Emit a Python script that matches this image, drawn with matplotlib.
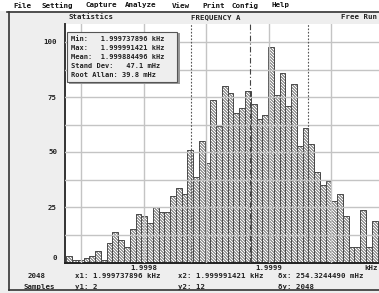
import numpy as np
import matplotlib
matplotlib.use("Agg")
import matplotlib.pyplot as plt
from matplotlib.patches import Rectangle
from matplotlib.collections import LineCollection
from matplotlib.path import Path
from matplotlib.transforms import Affine2D

# statistics shown in the box
f_min = 1.999737896
f_max = 1.999991421
f_mean = 1.999884496
std_dev = 47.1e-6      # kHz (47.1 mHz)
root_allan = 39.8      # mHz
n_samples = 2048

# histogram counts, one per bin between min and max
counts = [3, 1, 1, 2, 3, 5, 1, 9, 14, 10,
          7, 15, 22, 21, 18, 25, 23, 23, 30, 34,
          31, 51, 39, 55, 45, 74, 62, 80, 77, 68,
          70, 78, 72, 65, 67, 98, 76, 86, 71, 81,
          53, 61, 54, 41, 35, 37, 28, 31, 21, 7,
          7, 24, 7, 19, 12]

y_ticks = [0, 25, 50, 75, 100]
x_ticks = [1.9998, 1.9999]
x_labels = ["1.9998", "1.9999"]
menu_items = ["File", "Setting", "Capture", "Analyze", "View", "Print", "Config", "Help"]

W, H = 379, 293
fig = plt.figure(figsize=(W / 100, H / 100), dpi=100, facecolor="#eeeeee")


def px(x, y):
    return x / W, 1 - y / H


mono = dict(family="DejaVu Sans Mono", fontweight="bold", color="#222222")

# menu bar
fig.add_artist(Rectangle(px(0, 11), 1, 11 / H, transform=fig.transFigure,
                         facecolor="white", edgecolor="none"))
menu_x = [13, 42, 85, 125, 172, 202, 232, 272]
for mx, item in zip(menu_x, menu_items):
    fig.text(*px(mx, 5.5), item, fontsize=5.4, va="center", ha="left",
             family="DejaVu Sans Mono", fontweight="bold", color="#111111")
fig.add_artist(plt.Line2D([7 / W, 1], [1 - 12 / H] * 2, transform=fig.transFigure,
                          color="#333333", lw=1.2))
fig.add_artist(plt.Line2D([9 / W, 9 / W], [1 - 12 / H, 1 - 290 / H], transform=fig.transFigure,
                          color="#333333", lw=1.2))
fig.add_artist(plt.Line2D([9 / W, 1], [1 - 290 / H] * 2, transform=fig.transFigure,
                          color="#333333", lw=1.2))

# header row
fig.text(*px(91, 17), "Statistics", fontsize=5.3, ha="center", va="center", **mono)
fig.text(*px(216, 17), "FREQUENCY A", fontsize=5.3, ha="center", va="center", **mono)
fig.text(*px(377, 17), "Free Run", fontsize=5.3, ha="right", va="center", **mono)

# plot area, x in offsets from 1.9998 kHz (units of 1e-7 kHz)
ref = 1.9998
scale = 1e7
x_left = -79 * 8
x_right = 241 * 8
ax_w, ax_h = 320, 238.5
ax = fig.add_axes([65 / W, 1 - 262.5 / H, ax_w / W, ax_h / H])
ax.set_facecolor("white")
ax.set_xlim(x_left, x_right)
ax.set_ylim(0, 108.4)

edges = (np.linspace(f_min, f_max, len(counts) + 1) - ref) * scale
bars = ax.bar(edges[:-1], counts, width=np.diff(edges), align="edge",
              facecolor="white", edgecolor="#444444", linewidth=0.7, zorder=2)

# diagonal hatch, clipped to the bars
clip = Path.make_compound_path(*[b.get_path().transformed(b.get_patch_transform())
                                 for b in bars])
starts = np.arange(-ax_h, ax_w + 3, 3.0)
segs = [[(x0, ax_h), (x0 + ax_h, 0)] for x0 in starts]
hatch = LineCollection(segs, colors="#555555", linewidths=0.6, zorder=2.5,
                       transform=Affine2D().scale(1 / ax_w, 1 / ax_h) + ax.transAxes)
ax.add_collection(hatch)
hatch.set_clip_path(clip, ax.transData)

for gx in [1.99975, 1.9998, 1.99985, 1.9999, 1.99995]:
    ax.axvline((gx - ref) * scale, color="#c4c4c4", lw=1.0, zorder=3)
for gy in np.arange(12.5, 108, 12.5):
    ax.axhline(gy, color="#c4c4c4", lw=1.0, zorder=3)

m = (f_mean - ref) * scale
s = std_dev * scale
ax.axvline(m, color="#444444", lw=0.8, ls=(0, (5, 2, 1, 2)), zorder=4)
ax.axvline(m - s, color="#555555", lw=0.8, ls=(0, (1.5, 1.5)), zorder=4)
ax.axvline(m + s, color="#555555", lw=0.8, ls=(0, (1.5, 1.5)), zorder=4)

ax.set_xticks([])
ax.set_yticks([])
for sp in ["top", "right"]:
    ax.spines[sp].set_visible(False)
ax.spines["left"].set_color("#333333")
ax.spines["left"].set_linewidth(1.4)
ax.spines["bottom"].set_color("#222222")
ax.spines["bottom"].set_linewidth(1.4)

# y tick labels
for v in y_ticks:
    y = 262.5 - 2.2 * v
    fig.text(*px(57, min(y, 258)), str(v), fontsize=5.3, ha="right", va="center", **mono)

# x tick labels
for v, lab in zip(x_ticks, x_labels):
    xp = 65 + ((v - ref) * scale - x_left) / 8
    fig.text(*px(xp, 267.5), lab, fontsize=5.3, ha="center", va="center", **mono)
fig.text(*px(378, 267.5), "kHz", fontsize=5.3, ha="right", va="center", **mono)

# cursor readout
fig.text(*px(37, 276.5), str(n_samples), fontsize=5.3, ha="center", va="center", **mono)
fig.text(*px(39, 286.5), "Samples", fontsize=5.3, ha="center", va="center", **mono)
fig.text(*px(75, 276.5), "x1: %.9f kHz" % f_min, fontsize=5.3, va="center", **mono)
fig.text(*px(75, 286.5), "y1: 2", fontsize=5.3, va="center", **mono)
fig.text(*px(178, 276.5), "x2: %.9f kHz" % f_max, fontsize=5.3, va="center", **mono)
fig.text(*px(178, 286.5), "y2: 12", fontsize=5.3, va="center", **mono)
fig.text(*px(278, 276.5), "\u03b4x: 254.3244490 mHz", fontsize=5.3, va="center", **mono)
fig.text(*px(278, 286.5), "\u03b4y: %d" % n_samples, fontsize=5.3, va="center", **mono)

# statistics box
fig.add_artist(Rectangle(px(69, 84), 111 / W, 51 / H, transform=fig.transFigure,
                         facecolor="#999999", edgecolor="none", zorder=5))
fig.add_artist(Rectangle(px(67, 82), 110 / W, 50 / H, transform=fig.transFigure,
                         facecolor="#eeeeee", edgecolor="#555555", lw=0.8, zorder=6))
stats = [
    "Min:   %.9f kHz" % f_min,
    "Max:   %.9f kHz" % f_max,
    "Mean:  %.9f kHz" % f_mean,
    "Stand Dev:   %.1f mHz" % (std_dev * 1e6),
    "Root Allan: %.1f mHz" % root_allan,
]
for i, line in enumerate(stats):
    fig.text(*px(71, 39 + 9 * i), line, fontsize=5.0, va="center", zorder=7, **mono)

fig.savefig("out.png", dpi=100, facecolor=fig.get_facecolor())
